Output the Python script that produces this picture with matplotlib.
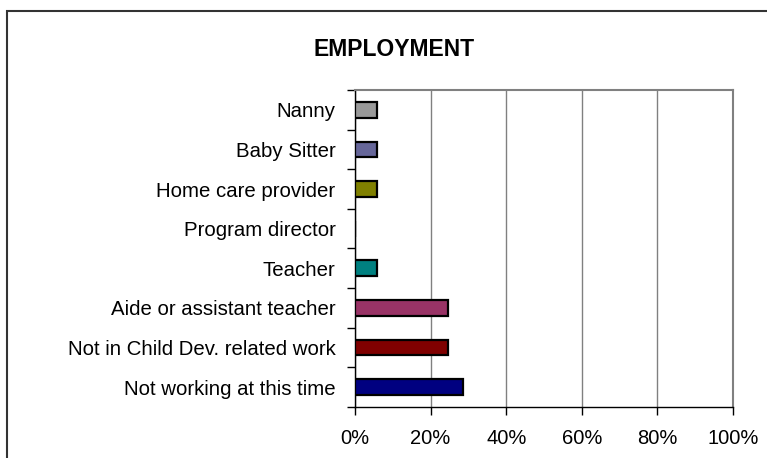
import matplotlib
matplotlib.use('Agg')
from matplotlib import pyplot as plt
from matplotlib.patches import Rectangle
import numpy as np

plt.rcParams['font.family'] = ['Liberation Sans', 'DejaVu Sans']

categories = ['Not working at this time', 'Not in Child Dev. related work',
              'Aide or assistant teacher', 'Teacher', 'Program director',
              'Home care provider', 'Baby Sitter', 'Nanny']
percent = [28.6, 24.6, 24.6, 5.8, 0.0, 5.8, 5.8, 5.8]
colors = ['#000080', '#800000', '#993366', '#008080', '#ffffff',
          '#808000', '#666699', '#999999']
xticks = [0, 20, 40, 60, 80, 100]

fig = plt.figure(figsize=(7.67, 4.58), dpi=100)
ax = fig.add_axes([0.4628, 0.1114, 0.4929, 0.6921])

y = np.arange(len(categories))
ax.barh(y, percent, height=0.4, color=colors, edgecolor='black', linewidth=1.6, zorder=3)

ax.set_xlim(0, 100)
ax.set_ylim(-0.5, len(categories) - 0.5)
ax.set_xticks(xticks)
ax.set_xticklabels([f'{v}%' for v in xticks], fontsize=14.5)
ax.set_yticks(y)
ax.set_yticklabels(categories, fontsize=14.7)
ax.tick_params(axis='y', length=0, pad=14)
ax.set_yticks(np.arange(-0.5, len(categories)), minor=True)
ax.tick_params(axis='y', which='minor', length=6, width=1, direction='out')
ax.tick_params(axis='x', length=6, width=1, direction='out', pad=10)

ax.grid(axis='x', color='#808080', linewidth=1, zorder=0)
for side in ['top', 'right']:
    ax.spines[side].set_color('#808080')
    ax.spines[side].set_linewidth(1.5)
for side in ['left', 'bottom']:
    ax.spines[side].set_color('black')
    ax.spines[side].set_linewidth(1)

fig.text(394 / 767, 1 - 49 / 458, 'EMPLOYMENT', ha='center', va='center',
         fontsize=16.5, fontweight='bold')

# outer chart frame
fig.patches.append(Rectangle((7 / 767, -0.1), 1.2, 1.1 - 11 / 458,
                             transform=fig.transFigure, fill=False,
                             edgecolor='#333333', linewidth=1.5))

fig.savefig('out.png', dpi=100)
